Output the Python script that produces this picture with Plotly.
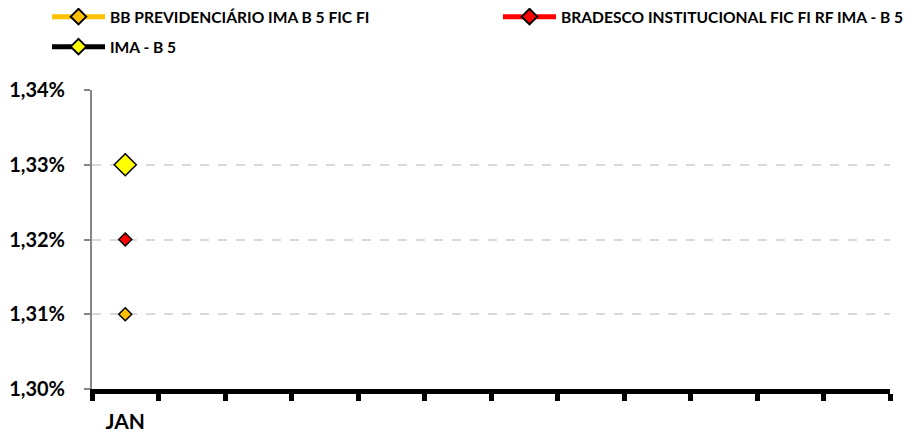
import plotly.graph_objects as go

months = ["JAN", "FEV", "MAR", "ABR", "MAI", "JUN", "JUL", "AGO", "SET", "OUT", "NOV", "DEZ"]
tick_labels = ["JAN", "", "", "", "", "", "", "", "", "", "", ""]
series_names = ["BB PREVIDENCIÁRIO IMA B 5 FIC FI", "BRADESCO INSTITUCIONAL FIC FI RF IMA - B 5", "IMA - B 5"]
bb_values = [0.0131]
bradesco_values = [0.0132]
ima_values = [0.0133]
y_ticks = [0.0130, 0.0131, 0.0132, 0.0133, 0.0134]

FONT = "Lato"
W, H = 911, 426  # page body adds an 8px margin

fig = go.Figure()
fig.add_trace(go.Scatter(
    x=months[:len(bb_values)], y=bb_values, name=series_names[0], mode="lines+markers",
    line=dict(color="#FFC000", width=5),
    marker=dict(symbol="diamond", size=10, color="#FFC000", line=dict(color="black", width=1.5)),
    legend="legend"))
fig.add_trace(go.Scatter(
    x=months[:len(bradesco_values)], y=bradesco_values, name=series_names[1], mode="lines+markers",
    line=dict(color="#FF0000", width=5),
    marker=dict(symbol="diamond", size=10, color="#FF0000", line=dict(color="black", width=1.5)),
    legend="legend3"))
fig.add_trace(go.Scatter(
    x=months[:len(ima_values)], y=ima_values, name=series_names[2], mode="lines+markers",
    line=dict(color="#000000", width=5),
    marker=dict(symbol="diamond", size=17, color="#FFFF00", line=dict(color="black", width=1.5)),
    legend="legend2"))

legend_common = dict(
    orientation="h", xref="container", yref="container", xanchor="left", yanchor="middle",
    font=dict(family=FONT, size=15.6, color="#000000", weight="bold"),
    itemwidth=53, bgcolor="rgba(0,0,0,0)", borderwidth=0, itemsizing="constant",
)

fig.update_layout(
    width=W, height=H,
    margin=dict(l=84, r=29, t=82, b=45, autoexpand=False),
    paper_bgcolor="white", plot_bgcolor="white",
    separators=",.",
    showlegend=True,
    legend=dict(x=39/W, y=1 - 9/H, **legend_common),
    legend3=dict(x=490/W, y=1 - 9/H, **legend_common),
    legend2=dict(x=39/W, y=1 - 39/H, **legend_common),
    xaxis=dict(
        type="category", categoryorder="array", categoryarray=months,
        tickmode="array", tickvals=months, ticktext=tick_labels,
        range=[-0.5, 11.5], tickson="boundaries",
        showline=True, linecolor="#000000", linewidth=5,
        ticks="outside", ticklen=7, tickwidth=5, tickcolor="#000000",
        showgrid=False, zeroline=False,
        tickfont=dict(family=FONT, size=21, color="#000000", weight="bold"),
        ticklabelstandoff=10,
    ),
    yaxis=dict(
        range=[0.0130, 0.0134], tickmode="array", tickvals=y_ticks, tickformat=".2%",
        showline=True, linecolor="#868686", linewidth=2,
        ticks="outside", ticklen=6, tickwidth=2, tickcolor="#868686",
        showgrid=True, gridcolor="#D9D9D9", gridwidth=2, griddash="dash",
        zeroline=False,
        tickfont=dict(family=FONT, size=20, color="#000000", weight="bold"),
        ticklabelstandoff=15,
    ),
)

fig.write_html("out.html")
